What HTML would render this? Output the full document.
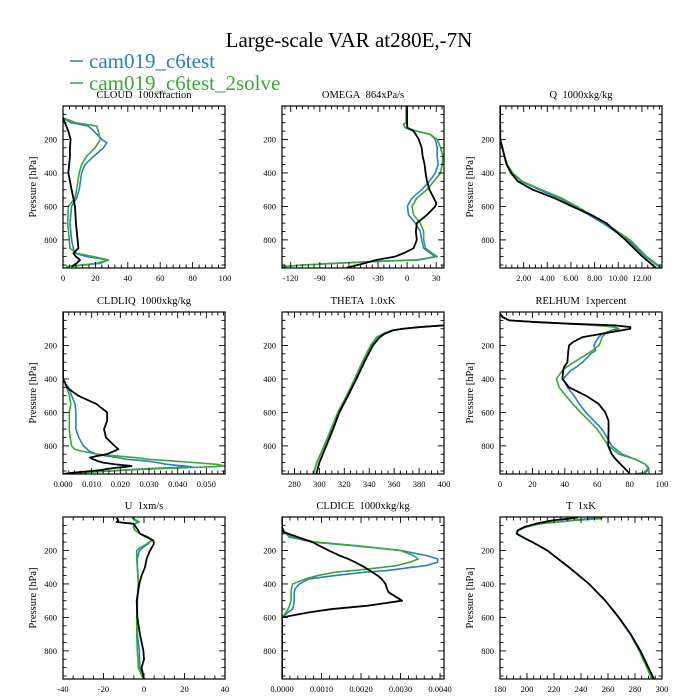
<!DOCTYPE html>
<html><head><meta charset="utf-8">
<style>
html,body{margin:0;padding:0;background:#fff;}
svg{display:block;font-family:"Liberation Serif",serif;}
</style></head>
<body>
<svg id="chart" width="700" height="700" viewBox="0 0 700 700" xmlns="http://www.w3.org/2000/svg">
<text x="349" y="47" font-size="21" text-anchor="middle" fill="#000">Large-scale VAR at280E,-7N</text>
<g>
<line x1="70" y1="61" x2="83" y2="61" stroke="#2a7ec0" stroke-width="1.5"/>
<text x="89" y="68" font-size="21" fill="#2a7ec0">cam019_c6test</text>
<line x1="70" y1="83" x2="83" y2="83" stroke="#3aa63a" stroke-width="1.5"/>
<text x="89" y="90" font-size="21" fill="#3aa63a">cam019_c6test_2solve</text>
</g>
</svg>
<script>
// ---- data (pressure levels hPa, values) ----
const cloudP = [70,100,120,150,200,220,250,300,350,400,500,550,600,700,800,850,880,900,920,940,960];
const cloudBlue = [0,5,15.6,19,24,27,25,19,13.6,11.5,10,8.4,5.3,4.3,5.3,6.4,7.4,14.6,28,23,2];
const cloudGreen = [0,8,20.8,21.8,23,21.8,19.8,14.6,11.5,10,8.4,7.4,3.3,2.9,3.9,4.3,8.4,19,28,21,2];
const cloudBlack = [0,1.2,2,3.3,4.7,4.5,4.3,4.3,3.8,3.3,5.3,6.4,7.4,8,9,9.5,6.4,8,10.5,8.4,5.3];

const omegaP = [0,100,110,130,150,170,200,250,300,350,400,450,500,550,580,600,650,700,750,800,850,880,900,920,930,940,950,960,968];
const omegaBlue = [-1,-1,-3.8,-2,10,24,29,31,31,32,29,23,15,5,2,0.3,1.4,8.4,13.6,15,17,24,29,10,-38.7,-73.5,-108,-129,-129];
const omegaGreen = [-1,-1,-4,-2,10,24,31,34.5,37,36,34.5,27.5,20.5,10,7,5,6.6,13.6,17,17,19,25.8,31,11.8,-38.7,-73.5,-108,-129,-129];
const omegaBlack = [0,0,0,0.3,6.6,9,12,15,16,18,19,20.5,23,27.5,30,29,20.5,10,9,10,6.6,-3.8,-12.5,-31.7,-38,-44,-51,-58,-63];

const qP = [0,200,250,300,350,400,450,500,550,600,650,700,800,900,968];
const qBlue = [0,0.02,0.2,0.4,0.6,1.0,1.8,3.3,5.0,6.3,7.5,8.7,10.8,12.3,13.6];
const qGreen = [0,0.02,0.2,0.4,0.62,1.07,1.9,3.5,5.2,6.5,7.7,8.9,11.0,12.4,13.7];
const qBlack = [0,0.02,0.2,0.37,0.56,0.93,1.5,2.76,4.6,6.1,7.7,9.0,10.6,12.05,13.2];

const liqP = [0,400,420,450,500,550,600,650,700,750,800,820,830,850,860,870,880,890,900,910,920,925,930,935,945,950,960,968];
const liqBlue = [0,0,0.0005,0.0019,0.003,0.0042,0.0045,0.0045,0.0045,0.0055,0.0071,0.0085,0.009,0.0117,0.015,0.019,0.0222,0.029,0.033,0.036,0.042,0.045,0.038,0.031,0.02,0.016,0.006,0];
const liqGreen = [0,0,0.0004,0.0013,0.0022,0.0027,0.0022,0.0022,0.0022,0.0025,0.003,0.004,0.006,0.012,0.0187,0.025,0.03,0.038,0.046,0.0535,0.0564,0.052,0.043,0.035,0.022,0.017,0.006,0];
const liqBlack = [0,0,0.0007,0.0013,0.0053,0.0117,0.0154,0.0154,0.0143,0.015,0.018,0.0193,0.018,0.0152,0.012,0.0094,0.0105,0.012,0.014,0.018,0.0239,0.022,0.019,0.0165,0.0129,0.01,0.0036,0];

const thetaP = [80,90,100,110,130,150,200,300,400,500,600,700,800,900,968];
const thetaBlue = [400,380,367,358,351,346.5,341.5,334.5,328.5,322,315,309.5,304,298,295.3];
const thetaGreen = [400,380,367,358,351,346,341,334.3,328.3,321.8,314.8,309.3,303.8,297.8,295.2];
const thetaBlack = [400,380.7,367,359,352.5,348.5,343,336,329.7,323,316,311,305.5,300,297.5];

const rhP = [10,30,50,60,70,80,90,100,130,150,180,200,230,250,300,330,350,400,450,500,550,600,650,700,800,850,880,910,930,940,960,968];
const rhBlue = [0,1.6,5.7,22,42.6,60,71,72,63,61,59,58,59,56,51,47,43.6,39,41.6,45.7,49,53,58,63,69,75.4,83.6,89.8,91,91.8,89.8,85.7];
const rhGreen = [0,1.6,5.7,22,42.6,60,71,73.4,65,63,62,61,57,54,45.7,41,38.5,34.8,36.5,40.6,45,49.8,55,60,67,73.4,83.6,89.8,91.8,91,88.7,83.6];
const rhBlack = [0,1.6,5.7,22,42.6,71,80.5,80.5,63,51,45,42.6,42.2,42,41.6,39.5,39,38.5,42.6,53,61,65,67,67,66.8,69,71.5,74.4,76.5,77.5,79.5,80];

const uP = [5,20,30,40,60,80,100,120,140,160,180,200,250,300,350,400,500,600,700,800,850,900,968];
const uBlue = [-5.3,-4.4,-2.8,-4.4,-5.3,-4.4,-2,2.1,3.8,2.1,-0.3,-2.3,-3.3,-3.3,-3,-2.8,-3.3,-3.3,-3.3,-2.3,-2.2,-2,-0.3];
const uGreen = [-6,-3.6,-2.3,-4.4,-5.3,-4.4,-2,2.1,3.8,1.5,-1.5,-3.6,-3.6,-3.3,-3,-2.8,-3.3,-3.6,-3.6,-3.3,-3,-2.8,-0.3];
const uBlack = [-13.5,-12.7,-13.5,-5.3,-4,-2.8,-2,1.3,4.6,4.9,4,3,1.3,0.5,-1.2,-2.3,-3.6,-3.3,-2,-0.3,0,-1.2,0];

const iceP = [0,60,90,120,150,170,200,230,250,270,290,300,320,330,350,370,400,430,450,500,530,550,570,600,968];
const iceBlue = [0,0,0.00007,0.00019,0.00077,0.00175,0.003,0.00365,0.00394,0.00394,0.00365,0.0033,0.00266,0.0021,0.00134,0.00068,0.00044,0.00033,0.00031,0.00031,0.00029,0.00027,0.00015,0,0];
const iceGreen = [0,0,0.00007,0.00027,0.00085,0.00183,0.003,0.00332,0.00345,0.00324,0.0029,0.00258,0.0018,0.00134,0.0009,0.0006,0.00027,0.00024,0.00023,0.00023,0.00019,0.00015,0.0001,0,0];
const iceBlack = [0,0,0.00004,0.0004,0.00077,0.00093,0.00118,0.00145,0.00167,0.00185,0.00201,0.00209,0.00222,0.00229,0.00242,0.00252,0.00262,0.00266,0.0027,0.00304,0.00217,0.00126,0.00068,0,0];

const tP = [2,10,20,40,60,80,100,130,150,200,300,400,500,600,700,800,900,968];
const tBlue = [256,245,234,210,199,193.5,192.5,199,204,215,231,246,258,268,276.5,283.5,289,293];
const tGreen = [256,254.5,236,210,199,193.5,192.3,199,204,215,231,246,258,267.8,276.5,283.2,288.8,292.5];
const tBlack = [238,231,219,206.5,198,193,192.3,199,204,215,231,246,258,268,276.8,284,290,294];

// ---- panel definitions ----
const colX = [63, 282, 500], rowY = [106, 312, 517], PW = 162, PH = 162, PMAX = 968;
const panels = [
 {name:'cloud', title:'CLOUD\u00a0\u00a0100xfraction', c:0, r:0, xmin:0, xmax:100, ticks:[0,20,40,60,80,100], fmt:v=>v, minor:5, P:cloudP, S:[cloudBlue,cloudGreen,cloudBlack], ylab:true},
 {name:'omega', title:'OMEGA\u00a0\u00a0864xPa/s', c:1, r:0, xmin:-129, xmax:38, ticks:[-120,-90,-60,-30,0,30], fmt:v=>v, minor:5, P:omegaP, S:[omegaBlue,omegaGreen,omegaBlack], ylab:false},
 {name:'q', title:'Q\u00a0\u00a01000xkg/kg', c:2, r:0, xmin:0, xmax:13.7, ticks:[2,4,6,8,10,12], fmt:v=>v.toFixed(2), minor:4, P:qP, S:[qBlue,qGreen,qBlack], ylab:true},
 {name:'cldliq', title:'CLDLIQ\u00a0\u00a01000xkg/kg', c:0, r:1, xmin:0, xmax:0.0565, ticks:[0,0.01,0.02,0.03,0.04,0.05], fmt:v=>v.toFixed(3), minor:5, P:liqP, S:[liqBlue,liqGreen,liqBlack], ylab:true},
 {name:'theta', title:'THETA\u00a0\u00a01.0xK', c:1, r:1, xmin:270, xmax:400, ticks:[280,300,320,340,360,380,400], fmt:v=>v, minor:4, P:thetaP, S:[thetaBlue,thetaGreen,thetaBlack], ylab:false},
 {name:'relhum', title:'RELHUM\u00a0\u00a01xpercent', c:2, r:1, xmin:0, xmax:100, ticks:[0,20,40,60,80,100], fmt:v=>v, minor:5, P:rhP, S:[rhBlue,rhGreen,rhBlack], ylab:true},
 {name:'u', title:'U\u00a0\u00a01xm/s', c:0, r:2, xmin:-40, xmax:40, ticks:[-40,-20,0,20,40], fmt:v=>v, minor:4, P:uP, S:[uBlue,uGreen,uBlack], ylab:true},
 {name:'cldice', title:'CLDICE\u00a0\u00a01000xkg/kg', c:1, r:2, xmin:0, xmax:0.0041, ticks:[0,0.001,0.002,0.003,0.004], fmt:v=>v.toFixed(4), minor:5, P:iceP, S:[iceBlue,iceGreen,iceBlack], ylab:false},
 {name:'t', title:'T\u00a0\u00a01xK', c:2, r:2, xmin:180, xmax:300, ticks:[180,200,220,240,260,280,300], fmt:v=>v, minor:4, P:tP, S:[tBlue,tGreen,tBlack], ylab:true}
];
const colors = ['#2a7ec0','#3aa63a','#000'];
const sNames = ['c6test','c6test-2solve','reference'];
const NS = 'http://www.w3.org/2000/svg';
const svg = document.getElementById('chart');
function mk(tag, attrs, parent){ const e=document.createElementNS(NS,tag); for(const k in attrs) e.setAttribute(k,attrs[k]); (parent||svg).appendChild(e); return e; }

panels.forEach(p=>{
  const x0 = colX[p.c], y0 = rowY[p.r];
  const xs = v => x0 + (v - p.xmin)/(p.xmax - p.xmin)*PW;
  const ys = v => y0 + v/PMAX*PH;
  const g = mk('g',{});
  
  
  const t = mk('text',{x:x0+PW/2, y:y0-8, 'font-size':10.5, 'text-anchor':'middle'}, g);
  
  
  t.textContent = p.title;
  const cid = 'clip-'+p.name;
  const cp = mk('clipPath',{id:cid}, g);
  mk('rect',{x:x0,y:y0,width:PW,height:PH}, cp);
  const lg = mk('g',{'clip-path':'url(#'+cid+')'}, g);
  p.S.forEach((vals,i)=>{
    const d = vals.map((v,k)=>(k?'L':'M')+xs(v).toFixed(2)+' '+ys(p.P[k]).toFixed(2)).join(' ');
    const path = mk('path',{d:d, fill:'none', stroke:colors[i], 'stroke-width':i==2?1.8:1.6, 'stroke-linejoin':'round'}, lg);
    
    
  });
  const fr = mk('rect',{x:x0,y:y0,width:PW,height:PH,fill:'none',stroke:'#000','stroke-width':1.2}, g);
  
  
  const yt = mk('g',{}, g);
  
  
  for(let v=50; v<PMAX; v+=50){
    const y = ys(v), L = (v%200===0)?6:3.5;
    mk('line',{x1:x0,y1:y,x2:x0+L,y2:y,stroke:'#000','stroke-width':0.9}, yt);
    mk('line',{x1:x0+PW,y1:y,x2:x0+PW-L,y2:y,stroke:'#000','stroke-width':0.9}, yt);
    if(v%200===0){
      const tl = mk('text',{x:x0-6,y:y+3,'font-size':8.5,'text-anchor':'end'}, yt);
      tl.textContent = v;
    }
  }
  if(p.ylab){
    const yl = mk('text',{x:0,y:0,'font-size':10.5,'text-anchor':'middle',transform:'translate('+(x0-27)+','+(y0+PH/2)+') rotate(-90)'}, g);
    
    
    yl.textContent = 'Pressure [hPa]';
  }
  const xt = mk('g',{}, g);
  
  
  const step = p.ticks[1]-p.ticks[0], ms = step/p.minor;
  for(let v=p.ticks[0]-step; v<=p.xmax+1e-9; v+=ms){
    if(v < p.xmin-1e-9) continue;
    const x = xs(v);
    const isMaj = p.ticks.some(tv=>Math.abs(tv-v)<ms*0.01);
    const L = isMaj?6:3.5;
    mk('line',{x1:x,y1:y0+PH,x2:x,y2:y0+PH-L,stroke:'#000','stroke-width':0.9}, xt);
    mk('line',{x1:x,y1:y0,x2:x,y2:y0+L,stroke:'#000','stroke-width':0.9}, xt);
  }
  p.ticks.forEach(v=>{
    const tl = mk('text',{x:xs(v),y:y0+PH+13,'font-size':8.5,'text-anchor':'middle'}, xt);
    tl.textContent = p.fmt(v);
  });
});
</script>
</body></html>
